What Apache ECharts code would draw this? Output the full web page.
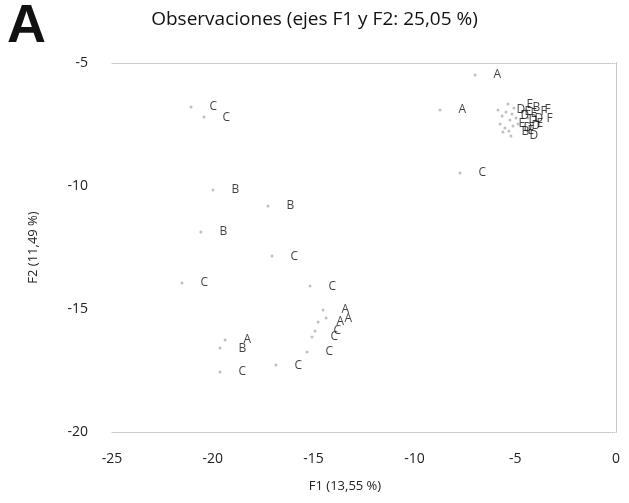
<!DOCTYPE html>
<html>
<head>
<meta charset="utf-8">
<script src="https://cdn.jsdelivr.net/npm/echarts@6/dist/echarts.min.js"></script>
<style>
  html, body { margin: 0; padding: 0; background: #fff; }
  #main { width: 629px; height: 503px; }
</style>
</head>
<body>
<div id="main"></div>
<script>
// observaciones: F1, F2 y etiqueta
var obsF1 = [
	-21.08, -20.44, -19.99, -17.26, -20.59, -17.06, -21.53, -15.18,
	-19.64, -19.39, -19.64, -16.87,
	-14.53, -14.38, -14.78, -14.93, -15.08, -15.33,
	-6.99, -8.73, -7.74,
	-5.85, -5.65, -5.46, -5.26, -5.75, -5.51, -5.31, -5.11, -5.61,
	-5.16, -4.96, -5.06, -5.36, -4.86, -5.21, -4.66, -4.37, -4.46
];
var obsF2 = [
	-6.79, -7.20, -10.16, -10.81, -11.87, -12.85, -13.94, -14.07,
	-16.59, -16.26, -17.56, -17.28,
	-15.04, -15.37, -15.53, -15.89, -16.14, -16.75,
	-5.49, -6.91, -9.47,
	-6.91, -7.15, -6.99, -7.32, -7.48, -7.64, -7.76, -7.56, -7.80,
	-7.07, -7.24, -6.83, -6.67, -7.48, -7.97, -6.99, -7.24, -6.91
];
var obsLabels = [
	'C', 'C', 'B', 'B', 'B', 'C', 'C', 'C',
	'B', 'A', 'C', 'C',
	'A', 'A', 'A', 'C', 'C', 'C',
	'A', 'A', 'C',
	'D', 'D', 'E', 'D', 'E', 'D', 'E', 'D', 'B',
	'E', 'D', 'B', 'E', 'E', 'D', 'F', 'F', 'F'
];
var xTicks = { min: -25, max: 0, step: 5 };
var yTicks = { min: -20, max: -5, step: 5 };

var chartDom = document.getElementById('main');
var myChart = echarts.init(chartDom);
var option;

var points = obsF1.map(function (x, i) {
	return { value: [x, obsF2[i]], name: obsLabels[i] };
});

var frameLine = { show: true, lineStyle: { color: '#c2c2c2', type: 'dotted', width: 1 } };

option = {
	backgroundColor: '#fff',
	animation: false,
	title: {
		text: 'Observaciones (ejes F1 y F2: 25,05 %)',
		left: 'center',
		top: 5,
		textStyle: {
			fontFamily: 'Open Sans',
			fontSize: 19,
			fontWeight: 'normal',
			color: '#111'
		}
	},
	graphic: [
		{
			type: 'text',
			left: 7,
			top: 0,
			style: {
				text: 'A',
				fontFamily: 'Liberation Sans',
				fontSize: 54,
				fontWeight: 'bold',
				fill: '#111'
			}
		}
	],
	grid: {
		left: 112,
		right: 13,
		top: 63,
		bottom: 71
	},
	xAxis: [
		{
			type: 'value',
			min: xTicks.min,
			max: xTicks.max,
			interval: xTicks.step,
			name: 'F1 (13,55 %)',
			nameLocation: 'middle',
			nameGap: 48,
			nameTextStyle: {
				fontFamily: 'Open Sans',
				fontSize: 13,
				color: '#222',
				padding: [0, 38, 0, 0]
			},
			axisLine: frameLine,
			axisTick: { show: false },
			splitLine: { show: false },
			axisLabel: {
				margin: 20,
				fontFamily: 'Open Sans',
				fontSize: 14,
				color: '#222'
			}
		},
		{
			type: 'value',
			position: 'top',
			min: xTicks.min,
			max: xTicks.max,
			axisLine: frameLine,
			axisTick: { show: false },
			axisLabel: { show: false },
			splitLine: { show: false }
		}
	],
	yAxis: [
		{
			type: 'value',
			min: yTicks.min,
			max: yTicks.max,
			interval: yTicks.step,
			name: 'F2 (11,49 %)',
			nameLocation: 'middle',
			nameGap: 72,
			nameTextStyle: {
				fontFamily: 'Open Sans',
				fontSize: 13,
				color: '#222'
			},
			axisLine: frameLine,
			axisTick: { show: false },
			splitLine: { show: false },
			axisLabel: {
				margin: 24,
				fontFamily: 'Open Sans',
				fontSize: 14,
				color: '#222'
			}
		},
		{
			type: 'value',
			position: 'right',
			min: yTicks.min,
			max: yTicks.max,
			axisLine: frameLine,
			axisTick: { show: false },
			axisLabel: { show: false },
			splitLine: { show: false }
		}
	],
	series: [
		{
			type: 'scatter',
			xAxisIndex: 0,
			yAxisIndex: 0,
			symbol: 'circle',
			symbolSize: 3,
			itemStyle: { color: '#b0b0b0' },
			label: {
				show: true,
				position: 'right',
				distance: 17,
				formatter: '{b}',
				fontFamily: 'Open Sans',
				fontSize: 12,
				color: '#111'
			},
			labelLayout: { hideOverlap: false },
			data: points
		}
	]
};

option && myChart.setOption(option);
</script>
</body>
</html>
